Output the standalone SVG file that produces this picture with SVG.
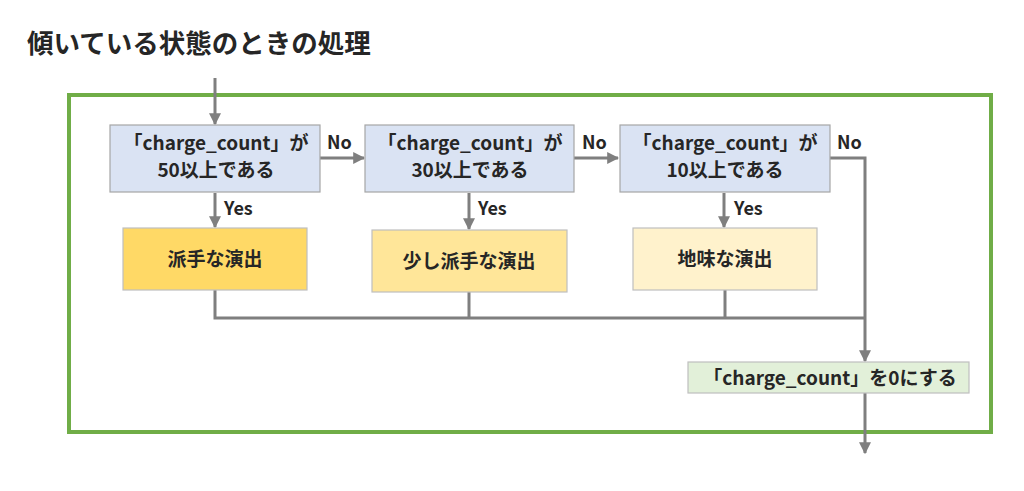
<svg xmlns="http://www.w3.org/2000/svg" width="1024" height="491" viewBox="0 0 1024 491">
<defs>
<style>
.t{font-family:"Noto Sans CJK JP","Liberation Sans",sans-serif;font-weight:bold;fill:#262626;}
.n{font-size:19px;text-anchor:middle;}
.lbl{font-size:18px;}
.c{fill:none;stroke:#7F7F7F;stroke-width:3;}
.dec{fill:#DAE3F3;stroke:#A6A6A6;stroke-width:1.2;}
</style>
<marker id="ah" viewBox="0 0 10 10" refX="9" refY="5" markerWidth="4" markerHeight="4" orient="auto" markerUnits="strokeWidth">
<path d="M0,0 L10,5 L0,10 z" fill="#7F7F7F"/>
</marker>
</defs>
<rect width="1024" height="491" fill="#FFFFFF"/>
<text class="t" x="27" y="53" font-size="26.5">傾いている状態のときの処理</text>
<rect id="frame" x="69" y="95" width="922" height="337" fill="none" stroke="#70AD47" stroke-width="4"/>
<g id="connectors">
<path class="c" d="M215,78 V124" marker-end="url(#ah)"/>
<path class="c" d="M320,158 H364" marker-end="url(#ah)"/>
<path class="c" d="M574,158 H618" marker-end="url(#ah)"/>
<path class="c" d="M830,158 H865 V361" marker-end="url(#ah)"/>
<path class="c" d="M215,193 V227" marker-end="url(#ah)"/>
<path class="c" d="M469,193 V229" marker-end="url(#ah)"/>
<path class="c" d="M724,193 V227" marker-end="url(#ah)"/>
<path class="c" d="M215,290 V318 H865"/>
<path class="c" d="M469,292 V318"/>
<path class="c" d="M725,290 V318"/>
<path class="c" d="M865,393 V453" marker-end="url(#ah)"/>
<text class="t lbl" x="327" y="149">No</text>
<text class="t lbl" x="582" y="149">No</text>
<text class="t lbl" x="837" y="149">No</text>
<text class="t lbl" x="224" y="215">Yes</text>
<text class="t lbl" x="478" y="215">Yes</text>
<text class="t lbl" x="734" y="215">Yes</text>
</g>
<g id="cond50">
<rect class="dec" x="110" y="125" width="210" height="67"/>
<text class="t n" x="216" y="150">「charge_count」が</text>
<text class="t n" x="216" y="177">50以上である</text>
</g>
<g id="cond30">
<rect class="dec" x="365" y="125" width="209" height="67"/>
<text class="t n" x="470" y="150">「charge_count」が</text>
<text class="t n" x="470" y="177">30以上である</text>
</g>
<g id="cond10">
<rect class="dec" x="620" y="125" width="210" height="67"/>
<text class="t n" x="725" y="150">「charge_count」が</text>
<text class="t n" x="725" y="177">10以上である</text>
</g>
<g id="act1">
<rect x="123" y="228" width="184" height="62" fill="#FFD966" stroke="#BFBFBF" stroke-width="1.2"/>
<text class="t n" x="215" y="266">派手な演出</text>
</g>
<g id="act2">
<rect x="372" y="230" width="195" height="62" fill="#FFE699" stroke="#BFBFBF" stroke-width="1.2"/>
<text class="t n" x="469" y="268">少し派手な演出</text>
</g>
<g id="act3">
<rect x="633" y="228" width="184" height="62" fill="#FFF2CC" stroke="#BFBFBF" stroke-width="1.2"/>
<text class="t n" x="725" y="266">地味な演出</text>
</g>
<g id="reset">
<rect x="688" y="362" width="281" height="31" fill="#E2F0D9" stroke="#BFBFBF" stroke-width="1.2"/>
<text class="t n" x="830" y="385">「charge_count」を0にする</text>
</g>
</svg>
